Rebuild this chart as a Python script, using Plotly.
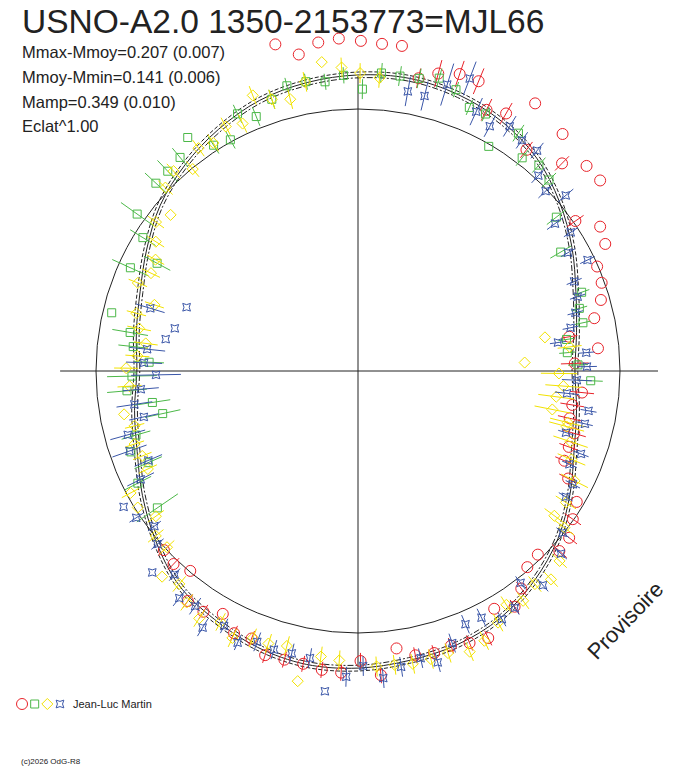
import plotly.graph_objects as go

# phase angle in degrees (0 = top, clockwise), flux relative to the mean (1.0 = mean circle)
fit_angle = [0, 10, 20, 30, 40, 50, 60, 70, 80, 90, 100, 110, 120, 130, 140, 150, 160, 170,
             180, 190, 200, 210, 220, 230, 240, 250, 260, 270, 280, 290, 300, 310, 320, 330, 340, 350]
fit_flux = [1.130, 1.134, 1.122, 1.099, 1.061, 1.004, 0.943, 0.885, 0.847, 0.828, 0.847, 0.878,
            0.935, 0.996, 1.046, 1.088, 1.111, 1.122, 1.134, 1.137, 1.122, 1.095, 1.065, 1.008,
            0.950, 0.897, 0.866, 0.844, 0.859, 0.885, 0.931, 0.985, 1.027, 1.065, 1.099, 1.118]
fit_band = 0.011

red_angle = [345.8, 349.4, 353.1, 356.7, 0.5, 4.2, 7.7, 11.7, 15.1, 18.9, 22.6, 26.2, 29.9, 33.5,
             37.3, 40.8, 44.5, 48.1, 51.8, 55.4, 59.2, 62.8, 66.4, 70.1, 73.7, 77.4, 80.8, 84.6,
             88.0, 95.5, 99.0, 102.6, 106.1, 109.8, 113.5, 117.1, 120.9, 124.6, 128.3, 131.8, 135.6,
             139.2, 143.1, 146.4, 150.2, 154.0, 157.7, 161.3, 164.9, 168.6, 172.1, 175.7, 179.5,
             183.2, 186.9, 190.6, 194.3, 198.1, 201.7, 205.3, 209.1, 212.7, 216.5, 220.0, 223.7, 227.3]
red_flux = [1.286, 1.229, 1.263, 1.271, 1.260, 1.252, 1.252, 1.141, 1.176, 1.198, 1.198, 1.111,
            1.134, 1.225, 1.061, 1.195, 1.111, 1.172, 1.176, 1.008, 1.076, 1.061, 0.996, 0.989,
            0.966, 0.924, 0.817, 0.920, 0.828, 0.859, 0.828, 0.828, 0.859, 0.855, 0.859, 0.901,
            0.973, 0.996, 1.027, 1.031, 0.981, 0.989, 1.038, 1.080, 1.046, 1.134, 1.122, 1.107,
            1.115, 1.107, 1.069, 1.164, 1.107, 1.153, 1.149, 1.137, 1.137, 1.141, 1.099, 1.107,
            1.061, 1.092, 1.092, 0.996, 1.019, 1.008]
red_err = [0, 0, 0, 0, 0, 0, 0, 0.038, 0.053, 0.053, 0.053, 0.046, 0.046, 0, 0.038, 0, 0.038, 0, 0,
           0.038, 0, 0, 0, 0, 0, 0, 0.031, 0, 0.053, 0.046, 0.046, 0.046, 0.046, 0.038, 0.038, 0.038,
           0, 0.038, 0.038, 0.038, 0, 0, 0.031, 0.031, 0, 0.031, 0.031, 0.031, 0.031, 0.031, 0,
           0.031, 0.031, 0.031, 0.031, 0.031, 0.031, 0.031, 0.031, 0.031, 0, 0.031, 0.031, 0, 0.031, 0.031]

green_angle = [268.7, 265.1, 261.3, 257.7, 253.9, 250.4, 246.4, 243.0, 235.7, 272.4, 276.2, 279.6,
               283.3, 294.4, 298.2, 301.8, 305.4, 312.9, 316.4, 320.2, 323.9, 327.4, 331.1, 334.9,
               338.2, 342.4, 346.0, 349.8, 353.5, 357.2, 0.9, 4.5, 8.1, 11.8, 15.5, 19.2, 22.9, 26.4,
               30.2, 34.0, 37.6, 41.3, 45.0, 52.2, 59.6, 70.6, 74.2, 77.9, 81.4, 85.0, 88.4, 92.4]
green_flux = [0.863, 0.885, 0.794, 0.763, 0.882, 0.920, 0.874, 0.943, 0.927, 0.798, 0.863, 0.882,
              0.966, 0.954, 0.870, 0.966, 1.034, 1.053, 1.053, 1.061, 1.103, 1.023, 1.008, 1.084,
              1.046, 1.088, 1.122, 1.122, 1.111, 1.130, 1.076, 1.141, 1.137, 1.141, 1.160, 1.137,
              1.092, 1.095, 0.992, 1.095, 1.027, 1.046, 1.031, 0.958, 0.897, 0.905, 0.878, 0.878,
              0.805, 0.802, 0.840, 0.889]
green_err = [0.095, 0.076, 0.069, 0.069, 0.057, 0, 0.057, 0.057, 0.095, 0.057, 0.057, 0.069, 0,
             0.076, 0.057, 0.057, 0.076, 0.057, 0.057, 0.046, 0, 0.038, 0.038, 0.038, 0.038, 0.038,
             0.031, 0.031, 0.031, 0.031, 0.038, 0.038, 0.038, 0.038, 0.038, 0.031, 0.031, 0.031, 0,
             0.038, 0.038, 0.038, 0.038, 0.046, 0.046, 0.031, 0.031, 0.031, 0.031, 0.031, 0.038, 0.046]

yellow_angle = [339.1, 342.4, 346.0, 349.6, 353.3, 356.9, 0.4, 4.2, 79.8, 87.1, 83.5, 90.7, 94.2,
                97.4, 101.2, 103.8, 104.9, 108.4, 112.5, 116.9, 122.3, 126.4, 127.2, 133.3, 137.2,
                140.3, 144.3, 147.6, 150.9, 154.9, 158.3, 162.3, 165.8, 169.4, 172.9, 176.4, 183.7,
                187.4, 191.0, 194.5, 198.2, 201.5, 205.2, 208.7, 212.7, 216.5, 220.0, 223.6, 227.3,
                230.8, 234.3, 238.2, 241.8, 245.0, 248.5, 251.9, 256.2, 259.5, 266.2, 270.7, 273.9,
                277.4, 281.0, 284.6, 288.0, 291.8, 295.3, 298.8, 302.6, 306.4, 309.8, 313.6, 317.3,
                320.7, 324.4, 327.6, 331.6, 335.0]
yellow_flux = [1.126, 1.088, 1.069, 1.122, 1.187, 1.160, 1.137, 1.122, 0.725, 0.637, 0.813, 0.767,
               0.786, 0.763, 0.756, 0.824, 0.824, 0.855, 0.882, 0.927, 0.939, 0.931, 0.989, 1.057,
               1.084, 1.057, 1.080, 1.057, 1.099, 1.137, 1.153, 1.130, 1.134, 1.137, 1.130, 1.130,
               1.107, 1.099, 1.206, 1.084, 1.095, 1.095, 1.126, 1.092, 1.122, 1.099, 1.061, 1.084,
               0.992, 0.996, 0.950, 0.989, 0.985, 0.885, 0.885, 0.897, 0.878, 0.908, 0.874, 0.885,
               0.844, 0.817, 0.851, 0.874, 0.817, 0.905, 0.874, 0.882, 0.916, 0.958, 0.931, 1.015,
               1.038, 0.996, 1.046, 1.031, 1.061, 1.042]
yellow_err = [0.038, 0.038, 0.038, 0.038, 0, 0.038, 0.038, 0.038, 0, 0, 0.046, 0.069, 0.069, 0.069,
              0.069, 0.069, 0.069, 0.069, 0.057, 0.057, 0.046, 0.046, 0.046, 0.038, 0.038, 0.038,
              0.038, 0.038, 0.038, 0.038, 0.038, 0.038, 0.038, 0.038, 0.038, 0.038, 0.038, 0.038, 0,
              0.038, 0.038, 0.038, 0.038, 0.038, 0.038, 0.038, 0.038, 0, 0.038, 0.038, 0.038, 0,
              0.038, 0.038, 0.038, 0.038, 0.038, 0, 0.046, 0.046, 0.046, 0.046, 0.046, 0.038, 0.038,
              0.038, 0.038, 0.038, 0.038, 0.038, 0, 0.038, 0.038, 0.038, 0.038, 0.038, 0.038, 0.038]

blue_angle = [10.1, 13.6, 17.3, 20.9, 24.5, 28.3, 31.8, 35.4, 39.1, 42.7, 46.2, 49.8, 53.2, 56.9,
              60.6, 64.2, 67.5, 71.3, 75.0, 78.5, 81.9, 85.4, 88.9, 92.4, 96.1, 99.8, 103.1, 106.5,
              110.4, 113.8, 117.8, 121.2, 128.3, 132.0, 139.2, 142.5, 146.5, 149.9, 153.4, 157.0,
              160.9, 164.7, 167.7, 171.7, 175.3, 179.0, 182.2, 185.9, 189.5, 193.2, 196.8, 200.4,
              203.9, 207.7, 211.2, 214.7, 218.2, 222.0, 225.6, 229.2, 232.7, 236.5, 239.9, 243.5,
              246.9, 250.7, 254.5, 257.9, 261.5, 265.2, 268.9, 272.2, 275.9, 279.4, 283.1, 286.8, 290.4]
blue_flux = [1.084, 1.080, 1.145, 1.195, 1.088, 1.061, 1.099, 1.080, 1.084, 1.015, 0.992, 1.038,
             0.939, 0.969, 0.920, 0.973, 0.893, 0.885, 0.859, 0.828, 0.771, 0.874, 0.874, 0.836,
             0.802, 0.893, 0.889, 0.828, 0.908, 0.882, 0.927, 0.927, 0.996, 1.042, 1.080, 1.019,
             1.084, 1.095, 1.053, 1.050, 1.099, 1.153, 1.122, 1.141, 1.176, 1.126, 1.168, 1.229,
             1.111, 1.107, 1.111, 1.103, 1.134, 1.099, 1.145, 1.092, 1.103, 1.046, 1.099, 1.011,
             0.977, 1.015, 1.034, 0.927, 0.870, 0.924, 0.912, 0.836, 0.863, 0.832, 0.771, 0.817,
             0.809, 0.744, 0.718, 0.828, 0.698]
blue_err = [0.057, 0.057, 0.084, 0.069, 0.057, 0.046, 0.046, 0.038, 0.038, 0.038, 0.038, 0.038,
            0.038, 0.031, 0.031, 0.031, 0.031, 0.031, 0.031, 0.031, 0.031, 0.031, 0.038, 0.057,
            0.046, 0.031, 0.031, 0.031, 0.031, 0.031, 0.031, 0.031, 0.031, 0.031, 0.031, 0.031,
            0.031, 0.031, 0.038, 0.038, 0.038, 0.038, 0.038, 0.038, 0.038, 0.038, 0.038, 0, 0.038,
            0.038, 0.038, 0.038, 0.031, 0.031, 0.038, 0.038, 0.038, 0.031, 0, 0.031, 0.031, 0.031,
            0, 0.057, 0.057, 0.069, 0.069, 0.057, 0.069, 0.069, 0.095, 0.069, 0.069, 0, 0, 0.057, 0]

series = [
    ("red", red_angle, red_flux, red_err, "#e8232a", "circle-open", 11),
    ("green", green_angle, green_flux, green_err, "#4cb848", "square-open", 8),
    ("yellow", yellow_angle, yellow_flux, yellow_err, "#f2e200", "diamond-open", 8.5),
    ("blue", blue_angle, blue_flux, blue_err, "#3a56a8", "star-square-open", 7),
]

FONT = "Liberation Sans, Arial, sans-serif"
INK = "#222222"

# figure pixel geometry (the page body adds an 8px offset)
W, H = 700, 760
CX, CY = 350, 363          # centre of the polar frame
R_MAX = 1.31               # radial range, large enough for the outliers
PX_PER_UNIT = 262          # pixels for the mean-flux circle
HALF = R_MAX * PX_PER_UNIT


def bar_path(angles, flux, err):
    th, rr = [], []
    for a, f, e in zip(angles, flux, err):
        if e > 0:
            th += [a, a, None]
            rr += [f - e, f + e, None]
    return th, rr


fig = go.Figure()

# the two axes of the diagram
fig.add_trace(go.Scatterpolar(theta=[270, 0, 90], r=[1.137, 0, 1.145], mode="lines",
                              line=dict(color=INK, width=1), hoverinfo="skip"))
fig.add_trace(go.Scatterpolar(theta=[0, 0, 180], r=[1.126, 0, 1.130], mode="lines",
                              line=dict(color=INK, width=1), hoverinfo="skip"))

# fitted curve with its envelope
closed_angle = fit_angle + [fit_angle[0]]
closed_flux = fit_flux + [fit_flux[0]]
for off, dash in [(fit_band, "4px,2px"), (-fit_band, "6px,2px,2px,2px"), (0, "solid")]:
    fig.add_trace(go.Scatterpolar(
        theta=closed_angle, r=[f + off for f in closed_flux], mode="lines",
        line=dict(color=INK, width=1, dash=dash, shape="spline"), hoverinfo="skip"))

for name, ang, flx, err, col, sym, size in series:
    th, rr = bar_path(ang, flx, err)
    fig.add_trace(go.Scatterpolar(
        theta=th, r=rr, mode="lines", line=dict(color=col, width=1), hoverinfo="skip"))
    fig.add_trace(go.Scatterpolar(
        theta=ang, r=flx, mode="markers", name=name,
        marker=dict(symbol=sym, size=size, color=col, line=dict(color=col, width=1))))

# small symbol key at the bottom left
for i, (name, ang, flx, err, col, sym, size) in enumerate(series):
    fig.add_trace(go.Scatter(
        x=[i], y=[0], mode="markers", xaxis="x", yaxis="y",
        marker=dict(symbol=sym, size=size, color=col, line=dict(color=col, width=1)),
        hoverinfo="skip"))

fig.update_layout(
    width=W, height=H,
    margin=dict(l=0, r=0, t=0, b=0),
    paper_bgcolor="white", plot_bgcolor="white",
    showlegend=False,
    font=dict(family=FONT, color=INK),
    polar=dict(
        domain=dict(x=[(CX - HALF) / W, (CX + HALF) / W],
                    y=[1 - (CY + HALF) / H, 1 - (CY - HALF) / H]),
        bgcolor="rgba(0,0,0,0)",
        radialaxis=dict(range=[0, R_MAX], tickvals=[1.0], showticklabels=False, ticks="",
                        showline=False, gridcolor=INK, gridwidth=1),
        angularaxis=dict(rotation=90, direction="clockwise", showgrid=False,
                         showticklabels=False, ticks="", showline=False),
    ),
    xaxis=dict(domain=[7.7 / W, 58.3 / W], range=[-0.5, 3.5], visible=False, fixedrange=True),
    yaxis=dict(domain=[1 - 702 / H, 1 - 690 / H], range=[-1, 1], visible=False, fixedrange=True),
)

texts = [
    ("USNO-A2.0 1350-2153773=MJL66", 12, 14, 33.5),
    ("Mmax-Mmoy=0.207 (0.007)", 12, 44, 16.5),
    ("Mmoy-Mmin=0.141 (0.006)", 12, 69, 16.5),
    ("Mamp=0.349 (0.010)", 12, 94, 16.5),
    ("Eclat^1.00", 12, 118, 16.5),
    ("Jean-Luc Martin", 63, 696, 11),
    ("(c)2026 OdG-R8", 11, 753, 8),
]
for txt, px, py, fs in texts:
    fig.add_annotation(text=txt, x=px / W, y=1 - py / H, xref="paper", yref="paper",
                       xanchor="left", yanchor="middle", showarrow=False,
                       font=dict(size=fs, family=FONT, color=INK))

fig.add_annotation(text="Provisoire", x=617 / W, y=1 - 612 / H, xref="paper", yref="paper",
                   xanchor="center", yanchor="middle", showarrow=False, textangle=-46,
                   font=dict(size=22, family=FONT, color=INK))

fig.write_html("out.html")
